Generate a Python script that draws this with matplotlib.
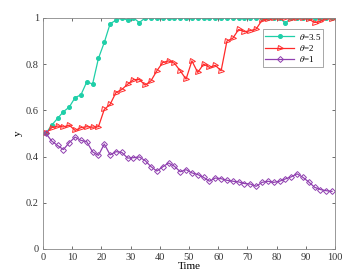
import numpy as np
import matplotlib
matplotlib.use('Agg')
from matplotlib import pyplot as plt

plt.rcParams['font.family'] = 'Liberation Serif'
plt.rcParams['mathtext.fontset'] = 'stix'

t = np.arange(1, 100, 2)

theta35 = [0.50, 0.536, 0.565, 0.594, 0.614, 0.655, 0.667, 0.723, 0.714, 0.825,
           0.894, 0.975, 0.99, 1.0, 0.99, 1.0, 0.98, 1.0, 1.0, 1.0,
           1.0, 1.0, 1.0, 1.0, 1.0, 1.0, 1.0, 1.0, 1.0, 1.0,
           1.0, 1.0, 1.0, 1.0, 1.0, 1.0, 1.0, 1.0, 1.0, 1.0,
           1.0, 0.978, 1.0, 1.0, 1.0, 1.0, 1.0, 1.0, 1.0, 1.0]
theta2 = [0.50, 0.525, 0.532, 0.528, 0.536, 0.513, 0.525, 0.529, 0.527, 0.529,
          0.604, 0.626, 0.677, 0.69, 0.713, 0.733, 0.733, 0.709, 0.728, 0.771,
          0.807, 0.814, 0.804, 0.771, 0.735, 0.814, 0.764, 0.80, 0.786, 0.795,
          0.771, 0.90, 0.912, 0.95, 0.94, 0.945, 0.952, 0.99, 0.995, 1.0,
          0.998, 1.0, 0.995, 1.0, 1.0, 0.995, 0.98, 0.985, 1.0, 0.995]
theta1 = [0.50, 0.467, 0.448, 0.43, 0.46, 0.484, 0.47, 0.464, 0.42, 0.405,
          0.454, 0.407, 0.421, 0.418, 0.393, 0.395, 0.398, 0.382, 0.356, 0.337,
          0.355, 0.372, 0.358, 0.334, 0.343, 0.329, 0.322, 0.31, 0.293, 0.307,
          0.304, 0.297, 0.293, 0.29, 0.283, 0.281, 0.271, 0.288, 0.293, 0.288,
          0.293, 0.303, 0.312, 0.325, 0.31, 0.29, 0.267, 0.257, 0.252, 0.249]

labels = [r'$\theta$=3.5', r'$\theta$=2', r'$\theta$=1']

fig = plt.figure(figsize=(3.61, 2.80), dpi=100)
ax = fig.add_axes([0.119, 0.111, 0.809, 0.825])

ax.plot(t, theta35, color='#1fcfa8', lw=0.9, marker='o', ms=2.6, mfc='#1fcfa8', mec='#1fcfa8', label=labels[0])
ax.plot(t, theta2, color='#ff2a2a', lw=0.9, marker='>', ms=3.6, mfc='none', mec='#ff2a2a', mew=0.7, label=labels[1])
ax.plot(t, theta1, color='#9040b0', lw=0.9, marker='D', ms=3.0, mfc='none', mec='#9040b0', mew=0.7, label=labels[2])

ax.set_xlim(0, 100)
ax.set_ylim(0, 1)
ax.set_xticks(np.arange(0, 101, 10))
ax.set_yticks([0, 0.2, 0.4, 0.6, 0.8, 1])
ax.set_yticklabels(['0', '0.2', '0.4', '0.6', '0.8', '1'])
ax.tick_params(direction='in', top=True, right=True, labelsize=7.5, length=2.5, width=0.5, colors='#333333', pad=3)
for s in ax.spines.values():
    s.set_linewidth(0.6)
    s.set_color('#888888')
ax.set_xlabel('Time', fontsize=8, labelpad=0)
ax.set_ylabel('y', fontsize=8, labelpad=2)

leg = ax.legend(loc='upper right', fontsize=6.5, frameon=True, fancybox=False,
                edgecolor='#666666', handlelength=3.2, handletextpad=0.5,
                labelspacing=0.15, borderpad=0.25, bbox_to_anchor=(0.975, 0.97))
leg.get_frame().set_linewidth(0.5)

fig.savefig('out.png', dpi=100)
